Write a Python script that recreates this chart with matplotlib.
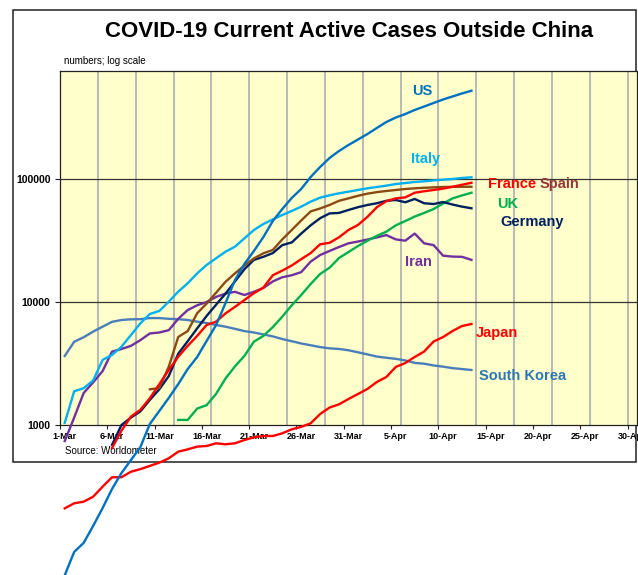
import matplotlib
matplotlib.use("Agg")
import matplotlib.pyplot as plt
import numpy as np
from matplotlib.patches import Rectangle
from matplotlib.ticker import NullLocator

plt.rcParams['font.family'] = ['Liberation Sans', 'DejaVu Sans']

nan = np.nan

# ---- data: daily active cases, 1-Mar-2020 .. 13-Apr-2020 (44 days) ----
dates = np.arange(44)  # day offset from 1-Mar

us = [60, 93, 110, 151, 211, 302, 407, 519, 662, 1020, 1300, 1660, 2150, 2850, 3570,
      4820, 6500, 9800, 15100, 20400, 26000, 33700, 45600, 57000, 70100, 83000, 103800,
      125200, 148200, 169000, 189000, 209500, 232000, 260000, 290700, 316000, 337500,
      364000, 388500, 415000, 443000, 469000, 496000, 522000]

italy = [1040, 1880, 1990, 2300, 3380, 3710, 4330, 5390, 6710, 7990, 8450, 10060, 12140,
         14190, 17100, 20000, 22660, 25650, 28180, 32950, 38480, 43060, 46980, 50970,
         54950, 59590, 65450, 70500, 73700, 76500, 78900, 81400, 84000, 86100, 88300,
         91000, 92700, 94600, 95700, 97500, 98700, 100000, 101900, 103200]

spain = [nan] * 9 + [1950, 2000, 2980, 5200, 5800, 8100, 9700, 11900, 14600, 17100, 19800,
                     22600, 24900, 26500, 32300, 38500, 46000, 54500, 57600, 61500, 66500,
                     69600, 73000, 76000, 78200, 79900, 81400, 82900, 84000, 84800, 85500,
                     86100, 86300, 86500, 86500]

france = [nan] * 5 + [650, 900, 1170, 1330, 1650, 2150, 2800, 3590, 4400, 5300, 6500, 6920,
                      8080, 9130, 10380, 11800, 13100, 16500, 18000, 19800, 22300, 25000,
                      29450, 30300, 33600, 38500, 42300, 49200, 59000, 66000, 69600, 70900,
                      77300, 79500, 81400, 83500, 86500, 89800, 93200]

germany = [nan] * 5 + [690, 1000, 1150, 1290, 1600, 1950, 2500, 3800, 4800, 6100, 7700,
                       9500, 11700, 14700, 18500, 22000, 23300, 25000, 29000, 30500, 36000,
                       42000, 48000, 52500, 53000, 56000, 59000, 61500, 63500, 66500, 67500,
                       64700, 68800, 63500, 62600, 65000, 62000, 59600, 57800]

uk = [nan] * 12 + [1100, 1100, 1360, 1450, 1790, 2390, 3000, 3650, 4760, 5300, 6250, 7600,
                   9400, 11400, 14000, 16900, 19000, 22800, 25500, 28500, 31500, 34500,
                   37300, 42000, 45500, 49500, 53000, 57000, 63200, 69600, 73500, 77300]

iran = [740, 1150, 1820, 2220, 2740, 3950, 4150, 4400, 4900, 5550, 5650, 5900, 7300, 8600,
        9400, 10000, 11000, 11700, 12100, 11400, 12100, 13000, 14700, 15900, 16500, 17500,
        21300, 24100, 26000, 28000, 30000, 31000, 32200, 33500, 35000, 32300, 31500, 36000,
        30000, 29000, 23800, 23400, 23300, 22000]

japan = [210, 231, 238, 261, 315, 376, 376, 417, 438, 465, 494, 536, 607, 634, 667, 675,
         710, 697, 710, 755, 794, 814, 814, 856, 923, 966, 1032, 1228, 1387, 1473, 1627,
         1787, 1963, 2238, 2456, 2964, 3192, 3572, 3960, 4775, 5190, 5810, 6380, 6625]

south_korea = [3640, 4750, 5170, 5740, 6300, 6900, 7140, 7230, 7250, 7400, 7400, 7300, 7250,
               7140, 6920, 6750, 6500, 6300, 6050, 5800, 5650, 5450, 5250, 5000, 4800, 4600,
               4450, 4300, 4200, 4150, 4050, 3900, 3750, 3600, 3520, 3450, 3350, 3200, 3150,
               3050, 2980, 2900, 2850, 2800]

tick_days = list(range(0, 61, 5))
tick_labels = ["1-Mar", "6-Mar", "11-Mar", "16-Mar", "21-Mar", "26-Mar", "31-Mar",
               "5-Apr", "10-Apr", "15-Apr", "20-Apr", "25-Apr", "30-Apr"]
ytick_vals = [1000, 10000, 100000]
ytick_labels = ["1000", "10000", "100000"]

# ---- layout (pixel helpers) ----
W, H = 638, 575
fig = plt.figure(figsize=(W / 100, H / 100), dpi=100)


def fx(px):
    return px / W


def fy(py):
    return 1 - py / H


frame = Rectangle((fx(12.5), fy(462)), fx(636) - fx(12.5), fy(10) - fy(462),
                  transform=fig.transFigure, facecolor='white', edgecolor='#222222',
                  lw=1.1, zorder=-5)
fig.add_artist(frame)

ax = fig.add_axes([fx(60), fy(425), fx(637) - fx(60), fy(71) - fy(425)])
ax.set_facecolor('#FFFFCC')
ax.set_yscale('log')
ax.set_ylim(1000, 10 ** (3 + 354 / 123))
ax.set_xlim(0, 61)

for d in range(4, 61, 4):
    ax.axvline(d, color='#B4B4B4', lw=1.3, zorder=1)
for v in (10000, 100000):
    ax.axhline(v, color='#333333', lw=0.9, zorder=1.5)

for s in ax.spines.values():
    s.set_color('#222222')
    s.set_linewidth(0.9)

x = dates + 0.5
series = [
    (south_korea, '#4A7EBB'),
    (japan, '#FF0000'),
    (iran, '#7030A0'),
    (uk, '#00B050'),
    (germany, '#002060'),
    (spain, '#8B4A14'),
    (france, '#FF0000'),
    (italy, '#00B0F0'),
    (us, '#0070C0'),
]
for vals, col in series:
    ax.plot(x, vals, color=col, lw=1.7, clip_on=False, zorder=3,
            solid_joinstyle='round')

ax.set_yticks(ytick_vals, ytick_labels, fontsize=7.5, fontweight='bold')
ax.yaxis.set_minor_locator(NullLocator())
ax.tick_params(axis='y', which='major', direction='out', length=3.8, width=0.8,
               pad=3, color='#222222')

ax.set_xticks(tick_days, [''] * len(tick_days))
ax.set_xticks([d + 0.5 for d in tick_days], tick_labels, minor=True,
              fontsize=6.5, fontweight='bold')
ax.tick_params(axis='x', which='major', direction='out', length=3, width=0.8,
               color='#222222')
ax.tick_params(axis='x', which='minor', length=0, pad=5)

# ---- texts ----
fig.text(fx(349), fy(31.7), "COVID-19 Current Active Cases Outside China",
         ha='center', va='center', fontsize=16, fontweight='bold')
fig.text(fx(64.5), fy(64.5), "numbers; log scale", ha='left', va='baseline',
         fontsize=7)
ax.text(fx(65), fy(454), "Source: Worldometer", ha='left', va='baseline',
        fontsize=7, transform=fig.transFigure, clip_on=False, zorder=2)

labels = [
    ("US", 411.7, 95, '#0070C0'),
    ("Italy", 411, 163, '#00B0F0'),
    ("France", 488.3, 188.3, '#FF0000'),
    ("Spain", 539.3, 188.3, '#953735'),
    ("UK", 496.7, 208.3, '#00B050'),
    ("Germany", 500, 226, '#002060'),
    ("Iran", 405, 266, '#7030A0'),
    ("Japan", 476, 336.5, '#FF0000'),
    ("South Korea", 479, 380, '#2E75B6'),
]
for txt, px, py, col in labels:
    ax.text(fx(px), fy(py), txt, ha='left', va='baseline', color=col,
            fontsize=10.5, fontweight='bold', transform=fig.transFigure,
            clip_on=False, zorder=4)

fig.savefig("out.png", dpi=100)
